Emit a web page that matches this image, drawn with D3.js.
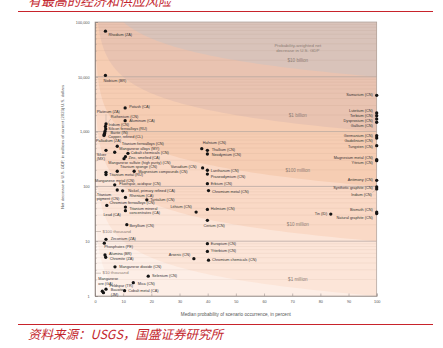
<!DOCTYPE html>
<html><head><meta charset="utf-8">
<script src="https://cdn.jsdelivr.net/npm/d3@7"></script>
<style>
html,body{margin:0;padding:0;background:#fff;}
svg{display:block;}
</style></head><body>
<svg id="c" width="443" height="348"></svg>
<script>
// ---------------- DATA ----------------
const minerals = [
 "Rhodium (ZA)","Niobium (BR)","Potash (CA)","Aluminum (CA)","Platinum (ZA)","Ruthenium (CN)","Iridium (CN)",
 "Silicon ferroalloys (RU)","Barite (IN)","Copper, refined (CL)","Palladium (ZA)","Titanium ferroalloys (CN)",
 "Manganese alloys (MY)","Silver\n(MX)","Cobalt chemicals (CN)","Zinc, smelted (CA)","Manganese sulfate (high purity) (CN)",
 "Titanium sponge (CN)","Titanium metal (RU)","Magnesium compounds (CN)","Manganese metal (CN)","Fluorspar, acidspar (CN)",
 "Titanium\npigment (CN)","Nickel, primary refined (CA)","Rhenium (CA)","Tantalum (CN)","Chromium ferroalloys (CN)",
 "Titanium mineral\nconcentrates (CA)","Lead (CA)","Beryllium (CN)","Lithium (CN)","Holmium (CN)","Cerium (CN)",
 "Zirconium (ZA)","Phosphates (PE)","Alumina (BR)","Chromite (ZA)","Manganese dioxide (CN)","Selenium (CN)","Mica (CN)",
 "Manganese\nore (GA)","Feldspar (TR)","Bauxite\n(JM)","Cobalt metal (CA)",
 "Hafnium (CN)","Thallium (CN)","Neodymium (CN)","Vanadium (CN)","Lanthanum (CN)","Praseodymium (CN)","Erbium (CN)",
 "Chromium metal (CN)","Europium (CN)","Ytterbium (CN)","Arsenic (CN)","Chromium chemicals (CN)",
 "Samarium (CN)","Lutetium (CN)","Terbium (CN)","Dysprosium (CN)","Gallium (CN)","Germanium (CN)","Gadolinium (CN)",
 "Tungsten (CN)","Magnesium metal (CN)","Yttrium (CN)","Antimony (CN)","Synthetic graphite (CN)","Indium (CN)",
 "Bismuth (CN)","Natural graphite (CN)","Tin (ID)"
];
// median probability of scenario occurrence, percent
const probability = [
 3.7,3.7,10.7,10.7,3.9,3.7,3.8,3.55,3.4,3.3,3.2,
 7.9,7.0,3.9,11.7,10.8,10.3,7.9,3.9,13.9,3.9,7.0,
 7.9,9.8,10.8,18.4,4.2,10.8,10.8,11.3,35.9,39.9,39.9,
 3.9,3.3,3.55,3.8,7.1,18.9,13.6,2.6,3.9,3.0,10.5,
 37.9,39.9,39.9,38.2,39.9,39.9,39.9,40.3,39.9,39.9,35.1,40.3,
 100,100,100,100,100,100,100,100,100,100,100,100,100,100,100,83.7
];
// net decrease in U.S. GDP, millions of 2023 US$
const decrease = [
 68000,10600,2700,1580,1380,1240,1115,1005,925,885,850,
 540,420,456,402,348,320,189,181,189,165,107,
 86,83,63,57,45,42,36,20,34,38,24,
 10.8,9.2,5.6,5.1,3.4,2.3,1.75,1.22,1.33,1.15,1.25,
 488,456,390,217,197,168,112,84,9.0,6.5,4.8,4.5,
 4600,2185,1950,1700,1480,842,764,553,307,295,129,97.5,90,34,32,31.3
];
const xTicks = [0,10,20,30,40,50,60,70,80,90,100];
const yTicks = [1,10,100,1000,10000,100000];
const yTickLabels = ["1","10","100","1,000","10,000","100,000"];
// probability-weighted net decrease contours, millions of US$
const bandValues = [0.01,0.1,1,10,100,1000,10000];
const bandLabels = ["$10 thousand","$100 thousand","$1 million","$10 million","$100 million","$1 billion","$10 billion"];

// ---------------- LAYOUT / STYLE ----------------
const bandColors = ["#fef5f0","#fdeee6","#fce5d8","#fad9c6","#f6cdb3","#e9c3b1","#d9c3ba"];
const baseColor = "#fffaf7";
// label placement per point: [dx, dy, anchor, leader]
const labelLayout = [
 [3,4,"start"],[-2,5.4,"start"],[4,-0.5,"start"],[4,0,"start"],[-9.3,-11.7,"start",1],[5.3,-9.5,"start",1],[2.8,-4.3,"start"],
 [3.3,-2.5,"start"],[6,0,"start"],[4,2.5,"start"],[-8,5.8,"start",1],[4.4,-2.3,"start"],
 [4.6,-3.6,"start"],[-9.3,4.4,"start"],[2.8,0,"start"],[3,1.3,"start"],[-15.7,4,"start"],
 [2.7,-3.9,"start"],[3.3,3,"start"],[4,1,"start"],[-11,6.8,"start"],[4.6,-1,"start"],
 [-20.6,4.7,"start"],[5.7,0,"start"],[4,-1.7,"start"],[3.3,0,"start"],[2.6,-2.4,"start"],
 [4,2,"start"],[-22,4,"start"],[2.6,1.6,"start"],[-4.4,-4.8,"end"],[3.4,0,"start"],[-4,5.3,"start"],
 [4.7,-0.7,"start"],[0,4,"start"],[4,-1,"start"],[4,1.5,"start"],[4.3,0,"start"],[3.8,0,"start"],[4.4,1,"start"],
 [-4,-12,"start"],[3.5,-2.9,"start"],[7.2,-2.4,"start"],[3.7,0.6,"start"],
 [1,-5.3,"start"],[4.3,0,"start"],[4.3,0.7,"start"],[-6,-1,"end"],[3.4,0.3,"start"],[3.4,2.7,"start"],[3.4,0,"start"],
 [3.4,1,"start"],[3.4,0,"start"],[3.4,0,"start"],[-3.5,-3.4,"end"],[3.4,0,"start"],
 [-4,0,"end"],[-4,-2.3,"end"],[-4,0,"end"],[-4,1.8,"end"],[-4,3.4,"end"],[-4,0,"end"],[-4,2.7,"end"],
 [-4,1.6,"end"],[-4,-1.6,"end"],[-4,2.8,"end"],[-4,0,"end"],[-4,0.8,"end"],[-5,5.6,"end",1],
 [-4,-1.8,"end"],[-4,4.5,"end"],[-3.5,0,"end"]
];

const FONT = "'Liberation Sans', Arial, sans-serif";
const svg = d3.select("#c");
const x = d3.scaleLinear().domain([0,100]).range([95,376.7]);
const y = d3.scaleLog().domain([1,100000]).range([296,22]);
const X0 = x.range()[0], X1 = x.range()[1], YT = y(100000), YB = y(1);

// header / footer
svg.append("text").attr("x",28).attr("y",6).attr("font-family","'Noto Sans CJK SC', sans-serif")
  .attr("font-size",13).attr("font-style","italic").attr("fill","#c3262d").text("有最高的经济和供应风险");
svg.append("line").attr("x1",18).attr("x2",433).attr("y1",11.5).attr("y2",11.5).attr("stroke","#c8232b").attr("stroke-width",1.1);
svg.append("line").attr("x1",18).attr("x2",433).attr("y1",324.5).attr("y2",324.5).attr("stroke","#c8232b").attr("stroke-width",1.1);
svg.append("text").attr("x",28).attr("y",339).attr("font-family","'Noto Sans CJK SC', sans-serif")
  .attr("font-size",12.5).attr("font-style","italic").attr("fill","#c3262d").text("资料来源：USGS，国盛证券研究所");

// clip
svg.append("defs").append("clipPath").attr("id","plot").append("rect")
  .attr("x",X0).attr("y",YT).attr("width",X1-X0).attr("height",YB-YT);
const g = svg.append("g").attr("clip-path","url(#plot)");
g.append("rect").attr("x",X0).attr("y",YT).attr("width",X1-X0).attr("height",YB-YT).attr("fill",baseColor);

const pSamples = d3.range(0,401).map(i => Math.pow(10, -4 + i*6/400));
bandValues.forEach((E,i) => {
  const area = d3.area().x(p => x(p)).y0(YT-3).y1(p => y(Math.min(1e9, E*100/p)));
  g.append("path").datum(pSamples).attr("d",area).attr("fill",bandColors[i]);
});

// gridlines
const minor = [];
[1,10,100,1000,10000].forEach(d => { for (let k=2;k<10;k++) minor.push(d*k); });
g.selectAll(".mg").data(minor).join("line").attr("x1",X0).attr("x2",X1)
  .attr("y1",d=>y(d)).attr("y2",d=>y(d)).attr("stroke","rgba(150,110,95,0.16)").attr("stroke-width",0.5);
g.selectAll(".Mg").data(yTicks.slice(1,-1)).join("line").attr("x1",X0).attr("x2",X1)
  .attr("y1",d=>y(d)).attr("y2",d=>y(d)).attr("stroke","#b0a49e").attr("stroke-width",0.7);

// band labels
const bandLabelColor = "#8d7d75";
[2,3,4,5,6].forEach(i => {
  const E = bandValues[i], p = 72;
  g.append("text").attr("x",x(p)).attr("y",y(E*100/p)-7).attr("text-anchor","middle")
    .attr("font-family",FONT).attr("font-size",4.6).attr("fill",bandLabelColor).text(bandLabels[i]);
});
g.append("text").attr("x",x(72)).attr("y",46.5).attr("text-anchor","middle").attr("font-family",FONT)
  .attr("font-size",4.4).attr("fill",bandLabelColor).text("Probability-weighted net");
g.append("text").attr("x",x(72)).attr("y",51.8).attr("text-anchor","middle").attr("font-family",FONT)
  .attr("font-size",4.4).attr("fill",bandLabelColor).text("decrease in U.S. GDP");
// left labels $100 thousand / $10 thousand
[[1,231.5],[0,273.2]].forEach(([i,yy]) => {
  svg.append("line").attr("x1",X0).attr("x2",X0+6).attr("y1",yy).attr("y2",yy).attr("stroke",bandLabelColor).attr("stroke-width",0.4);
  svg.append("text").attr("x",X0+7.5).attr("y",yy).attr("dominant-baseline","middle").attr("font-family",FONT)
    .attr("font-size",4.3).attr("fill",bandLabelColor).text(bandLabels[i]);
});

// frame
svg.append("rect").attr("x",X0).attr("y",YT).attr("width",X1-X0).attr("height",YB-YT)
  .attr("fill","none").attr("stroke","#a99d97").attr("stroke-width",0.7);

// axes
const xa = svg.append("g").attr("transform",`translate(0,${YB})`)
  .call(d3.axisBottom(x).tickValues(xTicks).tickSize(-2.5).tickPadding(4).tickFormat(d3.format("d")));
const ya = svg.append("g").attr("transform",`translate(${X0},0)`)
  .call(d3.axisLeft(y).tickValues(yTicks).tickSize(-3).tickPadding(5.5).tickFormat((d,i)=>yTickLabels[i]));
const ym = svg.append("g").attr("transform",`translate(${X0},0)`)
  .call(d3.axisLeft(y).tickValues(minor).tickSize(-1.6).tickFormat(""));
[xa,ya,ym].forEach(a => {
  a.select(".domain").attr("stroke","#8f8580").attr("stroke-width",0.6);
  a.selectAll(".tick line").attr("stroke","#8f8580").attr("stroke-width",0.5);
  a.selectAll(".tick text").attr("font-family",FONT).attr("font-size",3.8).attr("fill","#555");
});

svg.append("text").attr("x",(X0+X1)/2).attr("y",315.5).attr("text-anchor","middle").attr("font-family",FONT)
  .attr("font-size",4.7).attr("fill","#555").text("Median probability of scenario occurrence, in percent");
svg.append("text").attr("transform",`translate(63.5,${(YT+YB)/2-12}) rotate(-90)`).attr("text-anchor","middle")
  .attr("font-family",FONT).attr("font-size",4.2).attr("fill","#555")
  .text("Net decrease in U.S. GDP, in millions of current (2023) U.S. dollars");

// points & labels
const pts = minerals.map((n,i) => ({name:n, p:probability[i], v:decrease[i], lay:labelLayout[i]}));
const lg = svg.append("g");
const leaders = svg.append("g");
pts.forEach(d => {
  const cx = x(d.p), cy = y(d.v);
  const [dx,dy,anchor,leader] = d.lay;
  const t = lg.append("text").attr("font-family",FONT).attr("font-size",3.8).attr("fill","#333")
    .attr("text-anchor",anchor);
  d.name.split("\n").forEach((line,k) => {
    t.append("tspan").attr("x",cx+dx).attr("y",cy+dy+k*4.4).attr("dominant-baseline","middle").text(line);
  });
  if (leader) {
    const b = t.node().getBBox();
    const nx = Math.max(b.x, Math.min(cx, b.x+b.width));
    const ny = Math.max(b.y, Math.min(cy, b.y+b.height));
    leaders.append("line").attr("x1",cx).attr("y1",cy).attr("x2",nx).attr("y2",ny)
      .attr("stroke","#888").attr("stroke-width",0.3);
  }
});
svg.append("g").selectAll("circle").data(pts).join("circle")
  .attr("cx",d=>x(d.p)).attr("cy",d=>y(d.v)).attr("r",1.65).attr("fill","#141414");
</script>
</body></html>
